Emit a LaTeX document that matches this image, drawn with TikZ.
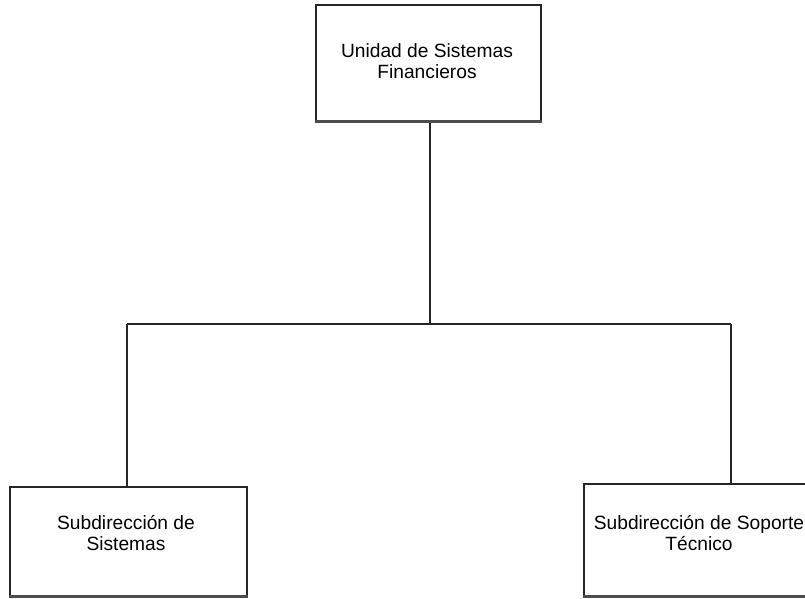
\documentclass[tikz,border=0pt]{standalone}
\usepackage{fontspec}
\setmainfont{Liberation Sans}
\begin{document}
\begin{tikzpicture}[x=1pt,y=1pt,
  unitbox/.style={draw=black!85, line width=1.3pt, rectangle, inner sep=0pt},
  unitlabel/.style={align=center, font=\fontsize{19.2}{21.5}\selectfont, inner sep=0pt},
  link/.style={draw=black!85, line width=1.1pt},
  base/.style={draw=black!70, line width=2.4pt}]
\useasboundingbox (0,0) rectangle (805,-598);
\clip (0,0) rectangle (805,-598);

% boxes
\node[unitbox, minimum width=225pt, minimum height=117pt] (top) at (428.5,-63.5) {};
\node[unitbox, minimum width=237pt, minimum height=110pt] (left) at (128.5,-542) {};
\node[unitbox, minimum width=228pt, minimum height=113pt] (right) at (698,-540.5) {};

% heavier lower edges
\draw[base] ([yshift=1pt]top.south west) -- ([yshift=1pt]top.south east);
\draw[base] ([yshift=1pt]left.south west) -- ([yshift=1pt]left.south east);
\draw[base] ([yshift=1pt]right.south west) -- ([yshift=1pt]right.south east);

% labels
\node[unitlabel] (toptext) at (427,-61) {Unidad de Sistemas\\Financieros};
\node[unitlabel] (lefttext) at (126,-533) {Subdirección de\\Sistemas};
\node[unitlabel] (righttext) at (699,-533) {Subdirección de Soporte\\Técnico};

% connectors
\coordinate (hub) at (430,-324);
\coordinate (jl) at (127,-324);
\coordinate (jr) at (731,-324);
\draw[link] (top.south -| hub) -- (hub);
\draw[link] (jl) -- (jr);
\draw[link] (jl) -- (jl |- left.north);
\draw[link] (jr) -- (jr |- right.north);
\end{tikzpicture}
\end{document}
